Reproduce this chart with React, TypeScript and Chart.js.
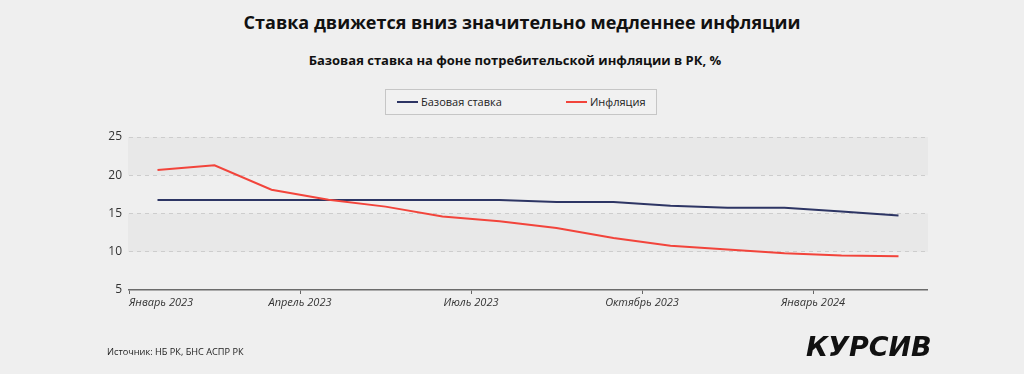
import React, { useEffect, useRef } from "react";
import { Chart, registerables } from "chart.js";

Chart.register(...registerables);

const months = [
  "Январь 2023", "Февраль 2023", "Март 2023", "Апрель 2023", "Май 2023", "Июнь 2023",
  "Июль 2023", "Август 2023", "Сентябрь 2023", "Октябрь 2023", "Ноябрь 2023", "Декабрь 2023",
  "Январь 2024", "Февраль 2024",
];
const baseRate = [16.75, 16.75, 16.75, 16.75, 16.75, 16.75, 16.75, 16.5, 16.5, 16.0, 15.75, 15.75, 15.25, 14.75];
const inflation = [20.7, 21.3, 18.1, 16.8, 15.9, 14.6, 14.0, 13.1, 11.8, 10.8, 10.3, 9.8, 9.5, 9.4];
const xTickPositions = [0, 3, 6, 9, 12, 14];
const xTickLabels = ["Январь 2023", "Апрель 2023", "Июль 2023", "Октябрь 2023", "Январь 2024", ""];
const yTicks = [5, 10, 15, 20, 25];
const shadedBands = [[20, 25], [10, 15]];

const FONT = "'Open Sans', 'Noto Sans', sans-serif";
const BLUE = "#2d3564";
const RED = "#f2443b";

const bandsPlugin = {
  id: "bands",
  beforeDraw(chart: any) {
    const { ctx, chartArea, scales } = chart;
    const y = scales.y;
    ctx.save();
    ctx.fillStyle = "#e8e8e8";
    for (const [lo, hi] of shadedBands) {
      const top = y.getPixelForValue(hi);
      const bot = y.getPixelForValue(lo);
      ctx.fillRect(chartArea.left - 1, top, chartArea.right - chartArea.left + 2, bot - top);
    }
    ctx.restore();
  },
};

export default function App() {
  const ref = useRef<HTMLCanvasElement>(null);

  useEffect(() => {
    document.body.style.margin = "0";
    document.body.style.background = "#efefef";
    const canvas = ref.current!;
    const chart = new Chart(canvas, {
      type: "line",
      data: {
        labels: months,
        datasets: [
          {
            label: "Инфляция",
            data: inflation.map((v, i) => ({ x: i + 0.5, y: v })),
            borderColor: RED,
            borderWidth: 2,
            pointRadius: 0,
            tension: 0,
          },
          {
            label: "Базовая ставка",
            data: baseRate.map((v, i) => ({ x: i + 0.5, y: v })),
            borderColor: BLUE,
            borderWidth: 2,
            pointRadius: 0,
            tension: 0,
          },
        ],
      },
      options: {
        animation: false,
        responsive: false,
        devicePixelRatio: 1,
        layout: { padding: { left: 99, right: 97, top: 137, bottom: 60 } },
        plugins: { legend: { display: false }, title: { display: false }, tooltip: { enabled: false } },
        scales: {
          x: {
            type: "linear",
            min: 0,
            max: 14,
            afterBuildTicks: (scale: any) => {
              scale.ticks = xTickPositions.map((v) => ({ value: v }));
            },
            afterFit: (scale: any) => {
              scale.height = 24;
            },
            grid: {
              drawOnChartArea: false,
              drawTicks: true,
              tickLength: 4,
              tickColor: (ctx: any) => (ctx.index === xTickPositions.length - 1 ? "rgba(0,0,0,0)" : "#666"),
              tickWidth: 1,
            },
            border: { display: true, color: "#6b6b6b", width: 1.5 },
            ticks: {
              autoSkip: false,
              maxRotation: 0,
              align: "inner",
              padding: 2,
              color: "#333",
              font: { family: FONT, size: 11, style: "italic" },
              callback: (value: any) => {
                const i = xTickPositions.indexOf(value);
                return i >= 0 ? xTickLabels[i] : "";
              },
            },
          },
          y: {
            min: 5,
            max: 25,
            afterBuildTicks: (scale: any) => {
              scale.ticks = yTicks.map((v) => ({ value: v }));
            },
            afterFit: (scale: any) => {
              scale.width = 30;
            },
            grid: {
              color: (ctx: any) => (ctx.tick && ctx.tick.value === 5 ? "rgba(0,0,0,0)" : "#cdcdcd"),
              drawTicks: false,
              lineWidth: 1,
            },
            border: { display: false, dash: [4, 4] },
            ticks: {
              padding: 7,
              color: "#333",
              font: { family: FONT, size: 12 },
            },
          },
        },
      },
      plugins: [bandsPlugin],
    });
    return () => chart.destroy();
  }, []);

  return (
    <div
      style={{
        position: "relative",
        width: 1024,
        height: 374,
        background: "#efefef",
        overflow: "hidden",
        fontFamily: FONT,
        color: "#111",
      }}
    >
      <div
        style={{
          position: "absolute",
          top: 9,
          left: 10,
          width: 1024,
          textAlign: "center",
          fontWeight: 700,
          fontSize: 18,
          lineHeight: "26px",
        }}
      >
        Ставка движется вниз значительно медленнее инфляции
      </div>
      <div
        style={{
          position: "absolute",
          top: 50,
          left: 3,
          width: 1024,
          textAlign: "center",
          fontWeight: 700,
          fontSize: 13,
          lineHeight: "20px",
        }}
      >
        Базовая ставка на фоне потребительской инфляции в РК, %
      </div>
      <canvas
        ref={ref}
        width={1024}
        height={374}
        style={{ position: "absolute", left: 0, top: 0, width: 1024, height: 374 }}
      />
      <div
        style={{
          position: "absolute",
          left: 385,
          top: 89,
          width: 272,
          height: 26,
          boxSizing: "border-box",
          border: "1px solid #c6c6c6",
          background: "#f1f1f1",
          fontSize: 11,
          color: "#222",
        }}
      >
        <div style={{ position: "absolute", left: 11, top: 11, width: 21, height: 2, background: BLUE }} />
        <div style={{ position: "absolute", left: 35, top: 3, lineHeight: "18px" }}>Базовая ставка</div>
        <div style={{ position: "absolute", left: 180, top: 11, width: 21, height: 2, background: RED }} />
        <div style={{ position: "absolute", left: 204, top: 3, lineHeight: "18px" }}>Инфляция</div>
      </div>
      <div
        style={{
          position: "absolute",
          left: 107,
          top: 345,
          fontSize: 9.2,
          lineHeight: "14px",
          color: "#222",
        }}
      >
        Источник: НБ РК, БНС АСПР РК
      </div>
      <div
        style={{
          position: "absolute",
          left: 806,
          top: 331,
          fontFamily: "'DejaVu Sans', sans-serif",
          fontWeight: 700,
          fontStyle: "italic",
          fontSize: 27,
          lineHeight: "32px",
          color: "#111",
          letterSpacing: 0,
        }}
      >
        КУРСИВ
      </div>
    </div>
  );
}
